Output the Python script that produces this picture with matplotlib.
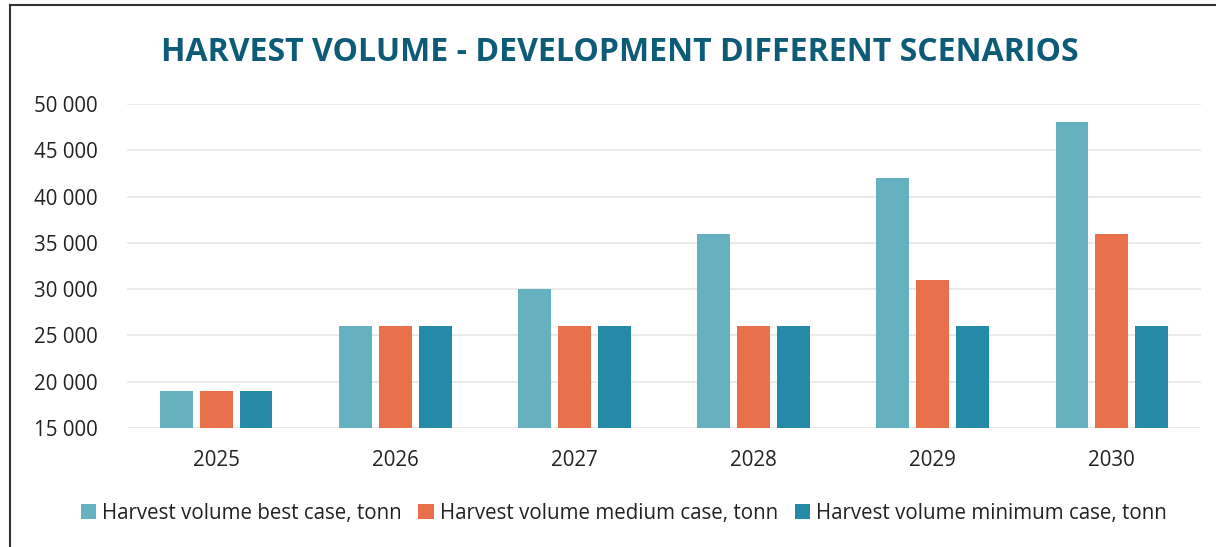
import numpy as np
import matplotlib.pyplot as plt
from matplotlib.ticker import FuncFormatter
from matplotlib.lines import Line2D

# data
years = ['2025', '2026', '2027', '2028', '2029', '2030']
best_case = [19000, 26000, 30000, 36000, 42000, 48000]
medium_case = [19000, 26000, 26000, 26000, 31000, 36000]
minimum_case = [19000, 26000, 26000, 26000, 26000, 26000]

labels = ['Harvest volume best case, tonn',
          'Harvest volume medium case, tonn',
          'Harvest volume minimum case, tonn']
colors = ['#66B1BF', '#E8704B', '#258AA7']

plt.rcParams['font.family'] = ['Open Sans', 'DejaVu Sans']

fig = plt.figure(figsize=(12.16, 5.47), dpi=100)
ax = fig.add_axes([0.1044, 0.2176, 0.8833, 0.5923])

x = np.arange(len(years))
w = 0.18
step = 0.223
for i, (vals, lab, c) in enumerate(zip([best_case, medium_case, minimum_case], labels, colors)):
    ax.bar(x + (i - 1) * step, np.array(vals) - 15000, width=w, bottom=15000,
           color=c, label=lab, zorder=3)

ax.set_xlim(-0.5, len(years) - 0.5)
ax.set_ylim(15000, 50000)
ax.set_yticks(range(15000, 50001, 5000))
ax.yaxis.set_major_formatter(FuncFormatter(lambda v, p: f'{int(v):,}'.replace(',', ' ')))
ax.set_xticks(x)
ax.set_xticklabels(years)
ax.grid(axis='y', color='#E6E6E6', linewidth=1.2, zorder=0)
for s in ax.spines.values():
    s.set_visible(False)
ax.tick_params(axis='both', length=0, labelsize=14.8, colors='#222222')
ax.tick_params(axis='y', pad=21)
ax.tick_params(axis='x', pad=16)

fig.suptitle('HARVEST VOLUME - DEVELOPMENT DIFFERENT SCENARIOS', x=0.51, y=0.935,
             fontsize=23, fontweight='bold', color='#0E5B78')

fig.legend(loc='center', bbox_to_anchor=(0.513, 0.062), ncol=3, frameon=False,
           fontsize=14.8, handlelength=0.75, handleheight=0.75, handletextpad=0.3,
           columnspacing=0.8, labelcolor='#222222')

# frame lines at top and left of the chart area
fig.add_artist(Line2D([0.0085, 1.0], [0.991, 0.991], color='#333333', linewidth=1.5))
fig.add_artist(Line2D([0.0085, 0.0085], [0.0, 0.991], color='#333333', linewidth=1.5))

fig.savefig('out.png', dpi=100)
